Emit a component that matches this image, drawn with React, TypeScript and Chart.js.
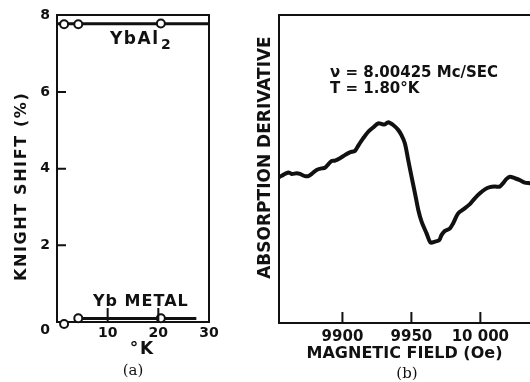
import React, { useEffect, useRef } from 'react';
import { Chart, registerables } from 'chart.js';

Chart.register(...registerables);

const FONT = "'DejaVu Sans', sans-serif";
const SERIF = "'DejaVu Serif', 'Liberation Serif', serif";
const INK = '#111111';

// ---------- Panel (a): Knight shift vs temperature ----------
const tempK = [1.4, 4.2, 20.5];
const ybAl2Shift = [7.77, 7.77, 7.79];
const ybAl2LineT = [0, 30];
const ybAl2LineShift = [7.78, 7.78];
const ybMetalShift = [-0.05, 0.1, 0.1];
const ybMetalLineT = [4.2, 27.5];
const ybMetalLineShift = [0.09, 0.09];
const aInnerXTicks = [10, 20];
const aInnerYTicks = [2, 4, 6];

// ---------- Panel (b): absorption derivative vs field ----------
const fieldOe = [
  9854.7, 9857.1, 9860.8, 9863.2, 9866.8, 9869.2, 9872.8, 9875.3, 9877.7, 9881.3,
  9884.9, 9887.3, 9889.7, 9892.2, 9894.6, 9898.2, 9901.8, 9905.4, 9909.1, 9911.5,
  9915.1, 9918.7, 9922.3, 9926.0, 9928.4, 9930.8, 9933.2, 9936.8, 9940.4, 9942.8,
  9945.3, 9947.7, 9950.1, 9952.6, 9955.0, 9957.4, 9961.0, 9963.9, 9967.0, 9970.2,
  9971.9, 9974.3, 9977.9, 9980.3, 9983.9, 9987.6, 9992.4, 9996.0, 9999.7, 10003.3,
  10006.9, 10010.5, 10014.1, 10016.5, 10019.0, 10021.4, 10025.0, 10028.6, 10032.2, 10035.8,
];
const absDeriv = [
  4.75, 4.81, 4.89, 4.84, 4.86, 4.84, 4.77, 4.77, 4.84, 4.97,
  5.02, 5.04, 5.15, 5.26, 5.27, 5.35, 5.45, 5.54, 5.59, 5.76,
  6.0, 6.21, 6.35, 6.48, 6.46, 6.45, 6.52, 6.43, 6.27, 6.1,
  5.83, 5.29, 4.75, 4.21, 3.67, 3.29, 2.91, 2.61, 2.64, 2.69,
  2.86, 2.99, 3.07, 3.24, 3.56, 3.69, 3.86, 4.05, 4.21, 4.34,
  4.41, 4.43, 4.43, 4.54, 4.68, 4.75, 4.7, 4.64, 4.56, 4.54,
];
const bXTicks = [9900, 9950, 10000];
const bXTickLabels = ['9900', '9950', '10 000'];

const pts = (xs: number[], ys: number[]) => xs.map((x, i) => ({ x, y: ys[i] }));

const innerTicks = (xVals: number[], xLen: number, yVals: number[], yLen: number) => ({
  id: 'innerTicks',
  afterDatasetsDraw(chart: any) {
    const { ctx, chartArea, scales } = chart;
    ctx.save();
    ctx.strokeStyle = INK;
    ctx.lineWidth = 2;
    ctx.beginPath();
    xVals.forEach((v) => {
      const px = scales.x.getPixelForValue(v);
      ctx.moveTo(px, chartArea.bottom);
      ctx.lineTo(px, chartArea.bottom - xLen);
    });
    yVals.forEach((v) => {
      const py = scales.y.getPixelForValue(v);
      ctx.moveTo(chartArea.left, py);
      ctx.lineTo(chartArea.left + yLen, py);
    });
    ctx.stroke();
    ctx.restore();
  },
});

// wide lettering for axis titles (drawn in the z=0 scale layer); tick labels use z=1 and normal spacing
const spacing = (px: number) => ({
  id: 'spacing',
  beforeDraw(chart: any) {
    (chart.ctx as any).letterSpacing = `${px}px`;
  },
  afterDatasetsDraw(chart: any) {
    (chart.ctx as any).letterSpacing = '0px';
  },
});

type Note = { text: string; x: number; y: number; font: string; align: CanvasTextAlign; ls?: number };
const notes = (items: Note[]) => ({
  id: 'notes',
  afterDraw(chart: any) {
    const ctx = chart.ctx;
    ctx.save();
    ctx.fillStyle = INK;
    ctx.textBaseline = 'middle';
    items.forEach((n) => {
      ctx.font = n.font;
      ctx.textAlign = n.align;
      (ctx as any).letterSpacing = `${n.ls ?? 0}px`;
      ctx.fillText(n.text, n.x, n.y);
    });
    ctx.restore();
  },
});

const frameAxis = (position: string, min: number, max: number) => ({
  type: 'linear',
  position,
  min,
  max,
  grid: { display: false, drawTicks: false },
  ticks: { display: false },
  border: { display: true, color: INK, width: 2 },
  afterFit: (s: any) => {
    if (position === 'top' || position === 'bottom') s.height = 0;
    else s.width = 0;
  },
});

export default function App() {
  const refA = useRef<HTMLCanvasElement>(null);
  const refB = useRef<HTMLCanvasElement>(null);

  useEffect(() => {
    document.body.style.margin = '0';
    const tickFontA = { family: FONT, size: 14, weight: 'bold' as const };
    const titleFontA = { family: FONT, size: 16, weight: 'bold' as const };
    const titleFont = { family: FONT, size: 17, weight: 'bold' as const };

    const chartA = new Chart(refA.current!, {
      type: 'scatter',
      data: {
        datasets: [
          {
            label: 'YbAl2',
            data: pts(tempK, ybAl2Shift),
            pointRadius: 4,
            pointBackgroundColor: '#ffffff',
            pointBorderColor: INK,
            pointBorderWidth: 2,
            showLine: false,
            clip: false,
            xAxisID: 'x',
            yAxisID: 'y',
          },
          {
            label: 'Yb metal',
            data: pts(tempK, ybMetalShift),
            pointRadius: 4,
            pointBackgroundColor: '#ffffff',
            pointBorderColor: INK,
            pointBorderWidth: 2,
            showLine: false,
            clip: false,
            xAxisID: 'x',
            yAxisID: 'y',
          },
          {
            label: 'YbAl2 line',
            data: pts(ybAl2LineT, ybAl2LineShift),
            showLine: true,
            borderColor: INK,
            borderWidth: 3,
            pointRadius: 0,
            xAxisID: 'x',
            yAxisID: 'y',
          },
          {
            label: 'Yb metal line',
            data: pts(ybMetalLineT, ybMetalLineShift),
            showLine: true,
            borderColor: INK,
            borderWidth: 3,
            pointRadius: 0,
            xAxisID: 'x',
            yAxisID: 'y',
          },
        ],
      },
      options: {
        responsive: false,
        animation: false,
        events: [],
        devicePixelRatio: 1,
        layout: { padding: { left: 12, right: 41, top: 14, bottom: 22 } },
        plugins: { legend: { display: false }, tooltip: { enabled: false } },
        scales: {
          x: {
            type: 'linear',
            position: 'bottom',
            min: 0,
            max: 30,
            grid: { display: false, drawTicks: false },
            border: { display: true, color: INK, width: 2 },
            ticks: {
              stepSize: 10,
              padding: 3,
              z: 1,
              color: INK,
              font: tickFontA,
              callback: (v: any) => (v === 0 ? '' : String(v)),
            },
            title: { display: true, text: '\u2003°K', padding: 0, color: INK, font: titleFont },
            afterFit: (s: any) => {
              s.height = 38;
            },
          },
          y: {
            type: 'linear',
            position: 'left',
            min: 0,
            max: 8,
            grid: { display: false, drawTicks: false },
            border: { display: true, color: INK, width: 2 },
            ticks: {
              stepSize: 2,
              padding: 7,
              z: 1,
              color: INK,
              font: tickFontA,
              callback: (v: any) => (v === 0 ? ['', '0'] : String(v)),
            },
            title: {
              display: true,
              text: 'KNIGHT SHIFT (%)\u2003\u2003',
              padding: 0,
              color: INK,
              font: titleFontA,
            },
            afterFit: (s: any) => {
              s.width = 45;
            },
          },
          xTop: frameAxis('top', 0, 30),
          yRight: frameAxis('right', 0, 8),
        } as any,
      },
      plugins: [
        spacing(1.6),
        innerTicks(aInnerXTicks, 14, aInnerYTicks, 9),
        notes([
          { text: 'YbAl', x: 110, y: 40, font: `bold 17px ${FONT}`, align: 'left', ls: 1.5 },
          { text: '2', x: 161, y: 45, font: `bold 14px ${FONT}`, align: 'left' },
          { text: 'Yb METAL', x: 93, y: 302, font: `bold 16px ${FONT}`, align: 'left', ls: 1 },
          { text: '(a)', x: 133, y: 371, font: `15px ${SERIF}`, align: 'center' },
        ]),
      ],
    } as any);

    const chartB = new Chart(refB.current!, {
      type: 'line',
      data: {
        datasets: [
          {
            label: 'Absorption derivative',
            data: pts(fieldOe, absDeriv),
            borderColor: INK,
            borderWidth: 4,
            pointRadius: 0,
            tension: 0.3,
            borderJoinStyle: 'round',
            borderCapStyle: 'round',
            xAxisID: 'x',
            yAxisID: 'y',
          },
        ],
      },
      options: {
        responsive: false,
        animation: false,
        events: [],
        devicePixelRatio: 1,
        layout: { padding: { left: 5, right: 0, top: 15, bottom: 19 } },
        plugins: { legend: { display: false }, tooltip: { enabled: false } },
        scales: {
          x: {
            type: 'linear',
            position: 'bottom',
            min: 9854,
            max: 10036,
            grid: { display: false, drawTicks: false },
            border: { display: true, color: INK, width: 2 },
            afterBuildTicks: (s: any) => {
              s.ticks = bXTicks.map((value) => ({ value }));
            },
            ticks: {
              padding: 5,
              color: INK,
              font: { family: FONT, size: 15, weight: 'bold' },
              callback: (v: any) => bXTickLabels[bXTicks.indexOf(Number(v))] ?? String(v),
            },
            title: {
              display: true,
              text: 'MAGNETIC FIELD (Oe)',
              padding: 0,
              color: INK,
              font: { family: FONT, size: 16, weight: 'bold' },
            },
            afterFit: (s: any) => {
              s.height = 40;
            },
          },
          y: {
            type: 'linear',
            position: 'left',
            min: 0,
            max: 10,
            grid: { display: false, drawTicks: false },
            border: { display: true, color: INK, width: 2 },
            ticks: { display: false },
            title: {
              display: true,
              text: '\u2003 ABSORPTION DERIVATIVE',
              padding: 0,
              color: INK,
              font: titleFont,
            },
            afterFit: (s: any) => {
              s.width = 24;
            },
          },
          xTop: frameAxis('top', 9854, 10036),
        } as any,
      },
      plugins: [
        innerTicks(bXTicks, 11, [], 0),
        notes([
          { text: '\u03BD = 8.00425 Mc/SEC', x: 80, y: 73, font: `bold 15px ${FONT}`, align: 'left' },
          { text: 'T = 1.80°K', x: 80, y: 89, font: `bold 15px ${FONT}`, align: 'left' },
          { text: '(b)', x: 157, y: 374, font: `15px ${SERIF}`, align: 'center' },
        ]),
      ],
    } as any);

    return () => {
      chartA.destroy();
      chartB.destroy();
    };
  }, []);

  return (
    <div style={{ position: 'fixed', left: 0, top: 0, width: 530, height: 382, background: '#fff' }}>
      <canvas
        ref={refA}
        width={250}
        height={382}
        style={{ position: 'absolute', left: 0, top: 0, width: 250, height: 382 }}
      />
      <canvas
        ref={refB}
        width={280}
        height={382}
        style={{ position: 'absolute', left: 250, top: 0, width: 280, height: 382 }}
      />
    </div>
  );
}
